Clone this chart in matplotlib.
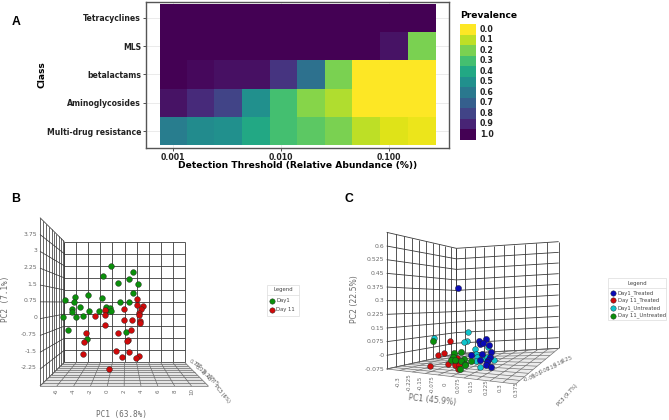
import numpy as np
import matplotlib
matplotlib.use("Agg")
import matplotlib.pyplot as plt
from matplotlib.colors import Normalize
from matplotlib.patches import Rectangle, Polygon

plt.rcParams['font.family'] = ['DejaVu Sans']

# ---- Panel A data ----
classes = ["Multi-drug resistance", "Aminoglycosides", "betalactams", "MLS", "Tetracyclines"]
thresholds = [0.001, 0.0018, 0.0032, 0.0058, 0.0105, 0.019, 0.034, 0.061, 0.11, 0.2]
prev_mdr = [0.58, 0.52, 0.50, 0.40, 0.30, 0.25, 0.20, 0.10, 0.05, 0.03]
prev_amino = [0.95, 0.88, 0.80, 0.50, 0.30, 0.18, 0.12, 0.0, 0.0, 0.0]
prev_beta = [1.0, 0.98, 0.96, 0.96, 0.85, 0.63, 0.20, 0.0, 0.0, 0.0]
prev_mls = [1.0, 1.0, 1.0, 1.0, 1.0, 1.0, 1.0, 1.0, 0.95, 0.20]
prev_tet = [1.0, 1.0, 1.0, 1.0, 1.0, 1.0, 1.0, 1.0, 1.0, 1.0]
x_ticks_a = [0.001, 0.010, 0.100]
legend_levels = [0.0, 0.1, 0.2, 0.3, 0.4, 0.5, 0.6, 0.7, 0.8, 0.9, 1.0]

# ---- Panel B data ----
b_day1_pc1 = [0.55, 3.07, -0.43, 2.60, 1.30, 3.70, 3.11, -2.20, -3.78, -0.59, -4.88, -3.86, 1.54, 2.68, -3.19,
              -4.06, -0.04, 0.39, -4.06, -2.09, -0.87, -0.04, 0.55, -3.66, -2.80, -5.16, -4.53, 2.28, -2.32]
b_day1_pc2 = [2.35, 2.07, 1.87, 1.75, 1.57, 1.54, 1.12, 1.05, 0.93, 0.90, 0.81, 0.72, 0.73, 0.73, 0.48,
              0.42, 0.51, 0.45, 0.27, 0.33, 0.31, 0.30, 0.30, 0.06, 0.07, 0.03, -0.55, -0.61, -0.94]
b_day11_pc1 = [3.58, 3.62, 4.33, 4.02, 2.05, 3.86, 3.82, -0.24, -1.42, -0.24, 2.95, 2.01, 3.98, 3.98,
               -0.20, 2.83, 1.38, -2.44, 2.56, 2.36, -2.64, 1.10, 2.68, -2.83, 1.81, 3.78, 3.50, 0.31]
b_day11_pc2 = [0.85, 0.58, 0.55, 0.40, 0.42, 0.22, 0.13, 0.34, 0.10, 0.13, -0.07, -0.10, -0.15, -0.21,
               -0.30, -0.55, -0.69, -0.69, -0.99, -1.03, -1.08, -1.50, -1.53, -1.62, -1.77, -1.72, -1.80, -2.28]
b_y_labels = ["3.75", "3", "2.25", "1.5", "0.75", "0", "-0.75", "-1.5", "-2.25"]
b_x_labels = ["-6", "-4", "-2", "0", "2", "4", "6", "8", "10"]
b_z_labels = ["0.75", "0.5", "0.25", "0", "-0.25", "-0.5", "-0.75", "-0.25"]

# ---- Panel C data ----
c_d1t_pc1 = [0.074, 0.246, 0.204, 0.262, 0.206, 0.226, 0.276, 0.156, 0.220, 0.266, 0.258, 0.208, 0.250, 0.246, 0.272]
c_d1t_pc2 = [0.371, 0.092, 0.079, 0.055, 0.061, 0.066, 0.018, 0.000, 0.007, -0.009, -0.026, -0.026, -0.035, -0.053, -0.062]
c_d11t_pc1 = [0.030, -0.008, -0.042, -0.092, 0.072, 0.016, 0.038, 0.058, 0.078, 0.058, 0.082, 0.076]
c_d11t_pc2 = [0.077, 0.015, 0.002, -0.061, -0.015, -0.046, -0.020, -0.040, -0.033, -0.055, -0.055, -0.075]
c_d1u_pc1 = [-0.066, 0.134, 0.132, 0.112, 0.178, 0.186, 0.192, 0.182, 0.256, 0.230, 0.290, 0.210, 0.250]
c_d1u_pc2 = [0.095, 0.130, 0.081, 0.072, 0.037, 0.009, -0.009, -0.029, 0.044, -0.013, -0.028, -0.064, -0.009]
c_d11u_pc1 = [-0.074, 0.052, 0.092, 0.048, 0.036, 0.112, 0.154, 0.096, 0.120, 0.120, 0.088, 0.056]
c_d11u_pc2 = [0.079, 0.015, 0.018, -0.009, -0.026, -0.022, -0.033, -0.029, -0.046, -0.055, -0.077, -0.028]
c_y_labels = ["0.6", "0.525", "0.45", "0.375", "0.3", "0.225", "0.15", "0.075", "-0", "-0.075"]
c_x_labels = ["-0.3", "-0.225", "-0.15", "-0.075", "0", "0.075", "0.15", "0.225", "0.3", "0.375"]
c_z_labels = ["0.25", "0.19", "0.13", "0.07", "0.01", "-0.05"]

W, H = 669, 420
fig = plt.figure(figsize=(W / 100, H / 100), dpi=100, facecolor="white")


def add_px_axes(x0, y0, x1, y1, **kw):
    return fig.add_axes([x0 / W, 1 - y1 / H, (x1 - x0) / W, (y1 - y0) / H], **kw)


# Overlay in pixel space for annotation text, legends and 3D frames
ov = add_px_axes(0, 0, W, H)
ov.set_xlim(0, W)
ov.set_ylim(H, 0)
ov.axis("off")
ov.set_zorder(5)
ov.patch.set_alpha(0)

for lab, x, y in [("A", 16, 22), ("B", 16, 199), ("C", 349, 199)]:
    ov.text(x, y, lab, fontsize=8.8, ha="center", va="center", color="black", family="Liberation Sans", weight="bold")

# ---------- Panel A ----------
ax_a = add_px_axes(146, 2, 449, 148)
cmap = plt.get_cmap("viridis_r")
norm = Normalize(0, 1)
th = np.array(thresholds)
mid = np.sqrt(th[:-1] * th[1:])
edges = np.r_[th[0] ** 2 / mid[0], mid, th[-1] ** 2 / mid[-1]]
Z = np.array([prev_mdr, prev_amino, prev_beta, prev_mls, prev_tet])
ax_a.set_xscale("log")
ax_a.grid(True, color="#ebebeb", lw=0.7)
ax_a.set_axisbelow(True)
ax_a.pcolormesh(edges, np.arange(6) - 0.5, Z, cmap=cmap, norm=norm, zorder=2)
ax_a.set_xlim(10 ** (-3 - 82 / 324), 10 ** (-3 + 828 / 324))
ax_a.set_ylim(-0.6, 4.56)
ax_a.set_xticks(x_ticks_a)
ax_a.set_xticklabels([f"{v:.3f}" for v in x_ticks_a], fontsize=5.6, weight="bold", color="#222222")
ax_a.minorticks_off()
ax_a.set_yticks(range(5))
ax_a.set_yticklabels(classes, fontsize=5.6, weight="bold", color="#222222")
ax_a.tick_params(length=2, width=0.6, color="#333333", pad=1.5)
ax_a.set_xlabel("Detection Threshold (Relative Abundance (%))", fontsize=6.6, weight="bold", labelpad=0)
ax_a.xaxis.set_label_coords(0.5, -0.09)
ax_a.set_ylabel("Class", fontsize=6.6, weight="bold")
ax_a.yaxis.set_label_coords(-0.33, 0.5)
for s in ax_a.spines.values():
    s.set_color("#555555")
    s.set_linewidth(1.0)

ov.text(460, 15, "Prevalence", fontsize=6.6, weight="bold", va="center", ha="left")
for i, v in enumerate(legend_levels):
    y = 24 + i * 10.5
    ov.add_patch(Rectangle((460, y), 16, 10.5, fc=cmap(norm(v)), ec="none"))
    ov.text(480, y + 5.2, f"{v:.1f}", fontsize=5.7, weight="bold", va="center", ha="left", color="#222222")


# ---------- 3D wire frames ----------
def lerp(a, b, t):
    return (a[0] + (b[0] - a[0]) * t, a[1] + (b[1] - a[1]) * t)


def seg(ax, p, q, color="#3a3a3a", lw=0.6):
    ax.plot([p[0], q[0]], [p[1], q[1]], color=color, lw=lw, solid_capstyle="butt", zorder=1)


def quad_grid(ax, a, b, c, d, n=10, tu=None, tv=None, color="#3a3a3a", lw=0.6):
    """Grid in quad a-b (top) d-c (bottom) with parameter lists."""
    tu = np.linspace(0, 1, n + 1) if tu is None else tu
    tv = np.linspace(0, 1, n + 1) if tv is None else tv
    for t in tu:
        seg(ax, lerp(a, b, t), lerp(d, c, t), color, lw)
    for t in tv:
        seg(ax, lerp(a, d, t), lerp(b, c, t), color, lw)


def B(zx, zy):
    return (zx / 3, 185 + zy / 3)


def C(zx, zy):
    return (340 + zx / 3, 185 + zy / 3)


depth = np.arange(11)
s = 1 / (1 + 0.04 * depth)
tb = (1 - s) / (1 - s[-1])   # 0 = front, 1 = back

ov.add_patch(Polygon([B(120, 603), B(625, 603), B(554, 532), B(193, 532)], fc="#e4e4e4", ec="none", zorder=0))
quad_grid(ov, B(193, 170), B(554, 170), B(554, 532), B(193, 532))
quad_grid(ov, B(120, 98), B(193, 170), B(193, 532), B(120, 603), tu=tb, lw=0.55)
quad_grid(ov, B(193, 532), B(554, 532), B(625, 603), B(120, 603), tv=1 - tb, color="#6a6a6a", lw=0.5)

ov.add_patch(Polygon([C(140, 552), C(349, 506), C(656, 490), C(527, 597)], fc="#ececec", ec="none", zorder=0))
quad_grid(ov, C(140, 142), C(349, 190), C(349, 506), C(140, 552),
          tu=[0, .134, .254, .368, .469, .569, .665, .756, .842, .923, 1])
quad_grid(ov, C(349, 190), C(656, 170), C(656, 490), C(349, 506),
          tu=[0, .088, .179, .270, .368, .466, .567, .671, .775, .886, 1])
quad_grid(ov, C(349, 506), C(656, 490), C(527, 597), C(140, 552), color="#6a6a6a", lw=0.45)

# axis tick text for the 3D frames
GREY = "#6a6a6a"
for i, lab in enumerate(b_y_labels):
    x, y = B(111, 147 + i * 50.2)
    ov.text(x, y, lab, fontsize=4.4, color=GREY, ha="right", va="center")
for i, lab in enumerate(b_x_labels):
    x, y = B(170 + i * 50.6, 620)
    ov.text(x, y, lab, fontsize=4.0, color=GREY, ha="center", va="center", rotation=90)
for i, lab in enumerate(b_z_labels[:-1]):
    x, y = B(584 + i * 9, 535 + i * 9)
    ov.text(x, y, lab, fontsize=4.0, color=GREY, ha="center", va="center", rotation=-30)
x, y = B(666, 627)
ov.text(x, y, "PC3 (6%)", fontsize=3.4, color="#444444", ha="center", va="center", rotation=-50)
x, y = B(364, 690)
ov.text(x, y, "PC1 (63.8%)", fontsize=5.6, color=GREY, ha="center", va="center", family="DejaVu Sans Mono")
x, y = B(16, 343)
ov.text(x, y, "PC2 (7.1%)", fontsize=5.6, color=GREY, ha="center", va="center", rotation=90, family="DejaVu Sans Mono")

for i, lab in enumerate(c_y_labels):
    x, y = C(133, 184 + i * 40.9)
    ov.text(x, y, lab, fontsize=4.4, color=GREY, ha="right", va="center")
c_xpos = [175, 207, 241, 277, 316, 353, 394, 437, 480, 527]
for zx, lab in zip(c_xpos, c_x_labels):
    x, y = C(zx, 590 + (zx - 175) * 0.06)
    ov.text(x, y, lab, fontsize=4.0, color=GREY, ha="center", va="center", rotation=90)
for i, lab in enumerate(c_z_labels):
    x, y = C(680 - i * 22, 524 + i * 11)
    ov.text(x, y, lab, fontsize=4.0, color=GREY, ha="center", va="center", rotation=20)
x, y = C(682, 630)
ov.text(x, y, "PC3 (9.7%)", fontsize=3.6, color="#444444", ha="center", va="center", rotation=48)
x, y = C(277, 646)
ov.text(x, y, "PC1 (45.9%)", fontsize=5.6, color=GREY, ha="center", va="center", rotation=-6)
x, y = C(42, 341)
ov.text(x, y, "PC2 (22.5%)", fontsize=5.6, color=GREY, ha="center", va="center", rotation=90)

GREEN, RED, BLUE, CYAN = "#0b8f0b", "#cf0a0a", "#0a0ab4", "#10c4cc"
EDGE = "#222222"

# ---------- Panel B scatter (PC units -> axes limits aligned with the frame) ----------
ax_b = add_px_axes(0, 185, 320, 420)
ax_b.set_xlim((0 - 320) / 25.4, (960 - 320) / 25.4)
ax_b.set_ylim((399 - 705) / 66.67, 399 / 66.67)
ax_b.axis("off")
ax_b.set_zorder(6)
ax_b.scatter(b_day1_pc1, b_day1_pc2, s=17, c=GREEN, edgecolors=EDGE, linewidths=0.3)
ax_b.scatter(b_day11_pc1, b_day11_pc2, s=17, c=RED, edgecolors=EDGE, linewidths=0.3)

# ---------- Panel C scatter ----------
ax_c = add_px_axes(340, 185, 669, 420)
ax_c.set_xlim((0 - 316) / 500, (987 - 316) / 500)
ax_c.set_ylim((511 - 705) / 545, 511 / 545)
ax_c.axis("off")
ax_c.set_zorder(6)
ax_c.scatter(c_d1u_pc1, c_d1u_pc2, s=17, c=CYAN, edgecolors=EDGE, linewidths=0.3)
ax_c.scatter(c_d1t_pc1, c_d1t_pc2, s=20, c=BLUE, edgecolors=EDGE, linewidths=0.3)
ax_c.scatter(c_d11t_pc1, c_d11t_pc2, s=17, c=RED, edgecolors=EDGE, linewidths=0.3)
ax_c.scatter(c_d11u_pc1, c_d11u_pc2, s=20, c=GREEN, edgecolors=EDGE, linewidths=0.3)


# ---------- Legends for B and C ----------
def legend(x0, y0, w, title_h, row_h, title, entries):
    h = title_h + row_h * len(entries) + 2
    ov.add_patch(Rectangle((x0, y0), w, h, fc="white", ec="#e2e2e2", lw=0.6, zorder=3))
    ov.plot([x0, x0 + w], [y0 + title_h] * 2, color="#e2e2e2", lw=0.6, zorder=3)
    ov.text(x0 + w / 2, y0 + title_h / 2, title, fontsize=3.9, color="#444444", ha="center", va="center", zorder=4)
    for i, (lab, col) in enumerate(entries):
        y = y0 + title_h + 1 + row_h * (i + 0.5)
        ov.scatter([x0 + 5], [y], s=15, c=col, edgecolors=EDGE, linewidths=0.3, zorder=4)
        ov.text(x0 + 9.5, y, lab, fontsize=3.8, color="#444444", ha="left", va="center", zorder=4)


legend(267, 285, 32, 10, 9.3, "Legend", [("Day1", GREEN), ("Day 11", RED)])
legend(608, 278, 58, 10, 7.6, "Legend", [("Day1_Treated", BLUE), ("Day 11_Treated", RED),
                                          ("Day1_Untreated", CYAN), ("Day 11_Untreated", GREEN)])

fig.savefig("out.png", dpi=100)
